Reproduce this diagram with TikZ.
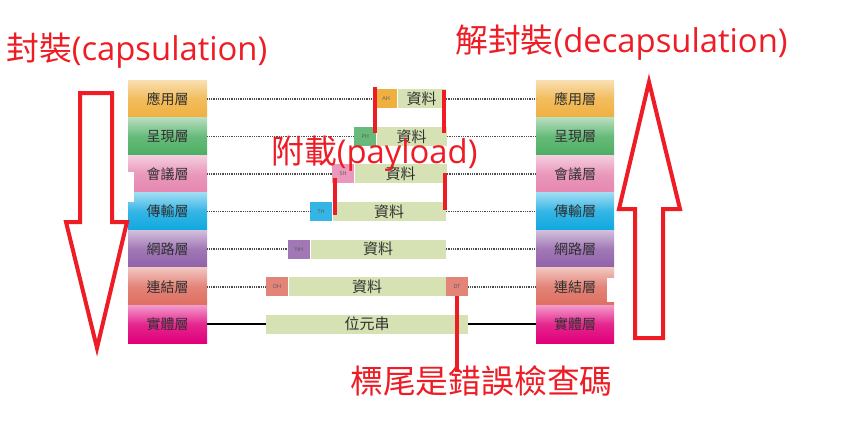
\documentclass[tikz,border=0pt]{standalone}
\usepackage{fontspec}
\setmainfont{Open Sans}
\newfontfamily\cjk{Noto Sans CJK TC}
\definecolor{redann}{HTML}{EE1C25}
\definecolor{cApp}{HTML}{F0B040}
\definecolor{cPre}{HTML}{4CAE62}
\definecolor{cSes}{HTML}{E686B0}
\definecolor{cTra}{HTML}{10A8E0}
\definecolor{cNet}{HTML}{9060A8}
\definecolor{cLnk}{HTML}{DE6E60}
\definecolor{cPhy}{HTML}{E0007A}
\definecolor{dataGreen}{HTML}{D6E2B4}
\definecolor{txtDark}{HTML}{303030}
\tikzset{
  layer/.style={minimum height=37.6pt, inner sep=0pt, font=\cjk\fontsize{14}{15}\selectfont, text=txtDark},
  lay/.style={layer, top color=#1!40!white, bottom color=#1, middle color=#1!85!white},
  hdr/.style={minimum width=22pt, minimum height=19pt, inner sep=0pt, anchor=west, fill=#1,
     font=\fontsize{5.5}{6}\selectfont, text=txtDark!80},
  databox/.style={minimum height=19pt, inner sep=0pt, anchor=west, fill=dataGreen,
     font=\cjk\fontsize{15}{16}\selectfont, text=txtDark},
  dots/.style={line width=1.6pt, gray!60!black, dash pattern=on 1pt off 0.8pt},
  solidline/.style={line width=2pt, black},
  redline/.style={line width=4pt, redann},
  redarrow/.style={line width=4pt, redann, line join=miter},
  redtxt/.style={inner sep=0pt, text=redann, font=\fontsize{32.8}{38}\selectfont, anchor=west},
}
\begin{document}
\begin{tikzpicture}[x=1pt,y=-1pt]
\useasboundingbox[fill=white] (0,0) rectangle (851,437);
% left stack
\node[lay=cApp, minimum width=79pt] (L1) at (167.5,98.8) {應用層};
\node[lay=cPre, minimum width=79pt] (L2) at (167.5,136.4) {呈現層};
\node[lay=cSes, minimum width=79pt] (L3) at (167.5,173.9) {會議層};
\node[lay=cTra, minimum width=79pt] (L4) at (167.5,211.5) {傳輸層};
\node[lay=cNet, minimum width=79pt] (L5) at (167.5,249.1) {網路層};
\node[lay=cLnk, minimum width=79pt] (L6) at (167.5,286.7) {連結層};
\node[lay=cPhy, minimum width=79pt] (L7) at (167.5,324.2) {實體層};
% right stack
\node[lay=cApp, minimum width=78pt] (R1) at (575,98.8) {應用層};
\node[lay=cPre, minimum width=78pt] (R2) at (575,136.4) {呈現層};
\node[lay=cSes, minimum width=78pt] (R3) at (575,173.9) {會議層};
\node[lay=cTra, minimum width=78pt] (R4) at (575,211.5) {傳輸層};
\node[lay=cNet, minimum width=78pt] (R5) at (575,249.1) {網路層};
\node[lay=cLnk, minimum width=78pt] (R6) at (575,286.7) {連結層};
\node[lay=cPhy, minimum width=78pt] (R7) at (575,324.2) {實體層};
% packets
\node[hdr=cApp] (AH) at (375,98.8) {AH};
\node[databox, minimum width=48pt] (D1) at (AH.east) {資料};
\node[hdr=cPre!85!white] (PH) at (354,136.4) {PH};
\node[databox, minimum width=70pt] (D2) at (PH.east) {資料};
\node[hdr=cSes!85!white] (SH) at (332,173.9) {SH};
\node[databox, minimum width=92pt] (D3) at (SH.east) {資料};
\node[hdr=cTra!85!white] (TH) at (310,211.5) {TH};
\node[databox, minimum width=113pt] (D4) at (TH.east) {資料};
\node[hdr=cNet!85!white] (NH) at (288,249.1) {NH};
\node[databox, minimum width=135pt] (D5) at (NH.east) {資料};
\node[hdr=cLnk!85!white] (DH) at (266,286.7) {DH};
\node[databox, minimum width=157pt] (D6) at (DH.east) {資料};
\node[hdr=cLnk!85!white] (DT) at (D6.east) {DT};
\node[databox, minimum width=202pt] (D7) at (266,324.2) {位元串};
% connecting lines
\draw[dots] (L1) -- (AH); \draw[dots] (D1) -- (R1);
\draw[dots] (L2) -- (PH); \draw[dots] (D2) -- (R2);
\draw[dots] (L3) -- (SH); \draw[dots] (D3) -- (R3);
\draw[dots] (L4) -- (TH); \draw[dots] (D4) -- (R4);
\draw[dots] (L5) -- (NH); \draw[dots] (D5) -- (R5);
\draw[dots] (L6) -- (DH); \draw[dots] (DT) -- (R6);
\draw[solidline] (L7) -- (D7); \draw[solidline] (D7) -- (R7);
% white notches
\fill[white] (120,172) rectangle (134,202);
\fill[white] (607,278) rectangle (621,302);
% red arrows
\draw[redarrow] (80,93) -- (112,93) -- (112,222) -- (127,222) -- (97,348) -- (66,222) -- (80,222) -- cycle;
\draw[redarrow] (649,82) -- (680,209) -- (663,209) -- (663,338) -- (635,338) -- (635,209) -- (619,209) -- cycle;
% red marker lines
\draw[redline] (375,87) -- (375,133);
\draw[redline] (444,90) -- (444,133);
\draw[redline] (335,178) -- (335,215);
\draw[redline] (445,173) -- (445,210);
% red labels
\node[redtxt] (cap) at (6,51) {{\cjk 封裝}(capsulation)};
\node[redtxt] (decap) at (455,43) {{\cjk 解封裝}(decapsulation)};
\node[redtxt] (pay) at (271,154) {{\cjk 附載}(payload)};
\node[redtxt] (tail) at (350,381) {\cjk 標尾是錯誤檢查碼};
\draw[redline] (DT.south) -- (DT.south |- 0,372);
\end{tikzpicture}
\end{document}
